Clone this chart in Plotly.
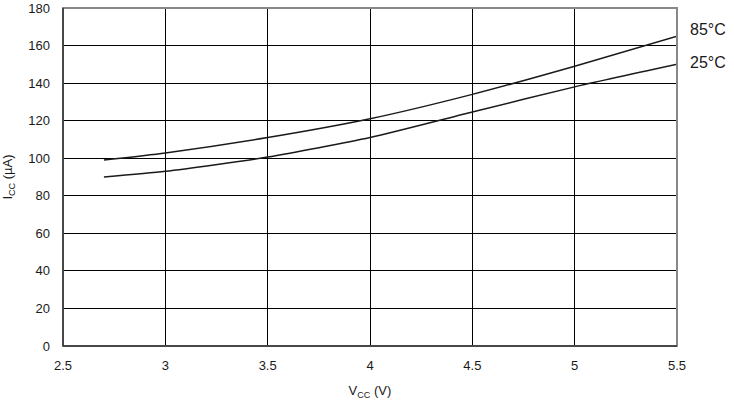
import plotly.graph_objects as go

vcc = [2.7, 3.0, 3.5, 4.0, 4.5, 5.0, 5.5]
icc_85 = [99, 102.8, 111, 121, 134, 149, 165]
icc_25 = [90, 93, 100.6, 111, 124.6, 138, 150]
x_ticks = [2.5, 3, 3.5, 4, 4.5, 5, 5.5]
x_ticklabels = ["2.5", "3", "3.5", "4", "4.5", "5", "5.5"]
y_ticks = [0, 20, 40, 60, 80, 100, 120, 140, 160, 180]
series_labels = ["85°C", "25°C"]

font = "Liberation Sans, Arial, sans-serif"
fig = go.Figure()
for ys, name, dy in [(icc_85, series_labels[0], 7), (icc_25, series_labels[1], 2)]:
    fig.add_trace(go.Scatter(x=vcc, y=ys, mode="lines", name=name,
                             line=dict(color="#1a1a1a", width=1.5, shape="spline", smoothing=0.6),
                             showlegend=False))
    fig.add_annotation(x=1, xref="paper", y=ys[-1], yref="y", text=name,
                       showarrow=False, xanchor="left", xshift=11, yshift=dy,
                       font=dict(family=font, size=16, color="#1a1a1a"))

fig.update_layout(
    width=734, height=400,
    margin=dict(l=63, r=57, t=8, b=54, autoexpand=False),
    paper_bgcolor="white", plot_bgcolor="white",
    font=dict(family=font, size=13, color="#1a1a1a"),
)
fig.update_xaxes(range=[2.5, 5.5], tickvals=x_ticks, ticktext=x_ticklabels,
                 showgrid=True, gridcolor="#000000", gridwidth=1,
                 showline=False, zeroline=False, ticks="", automargin=False,
                 ticklabelstandoff=10,
                 title=dict(text="V<sub>CC</sub> (V)", standoff=14, font=dict(size=13)))
fig.update_yaxes(range=[0, 180], tickvals=y_ticks,
                 showgrid=True, gridcolor="#000000", gridwidth=1,
                 showline=False, zeroline=False, ticks="", automargin=False,
                 ticklabelstandoff=12,
                 title=dict(text="I<sub>CC</sub> (µA)", standoff=13, font=dict(size=13)))
fig.add_shape(type="rect", xref="paper", yref="paper", x0=0, x1=1, y0=0, y1=1,
              line=dict(color="#888888", width=2), layer="above")
fig.add_shape(type="line", xref="paper", yref="paper", x0=0, x1=0, y0=0, y1=1,
              line=dict(color="#333333", width=1.5), layer="above")
fig.add_shape(type="line", xref="paper", yref="paper", x0=0, x1=1, y0=0, y1=0,
              line=dict(color="#333333", width=1.5), layer="above")
fig.write_html("out.html", config={"displayModeBar": False},
               post_script="document.body.style.margin='0';")
